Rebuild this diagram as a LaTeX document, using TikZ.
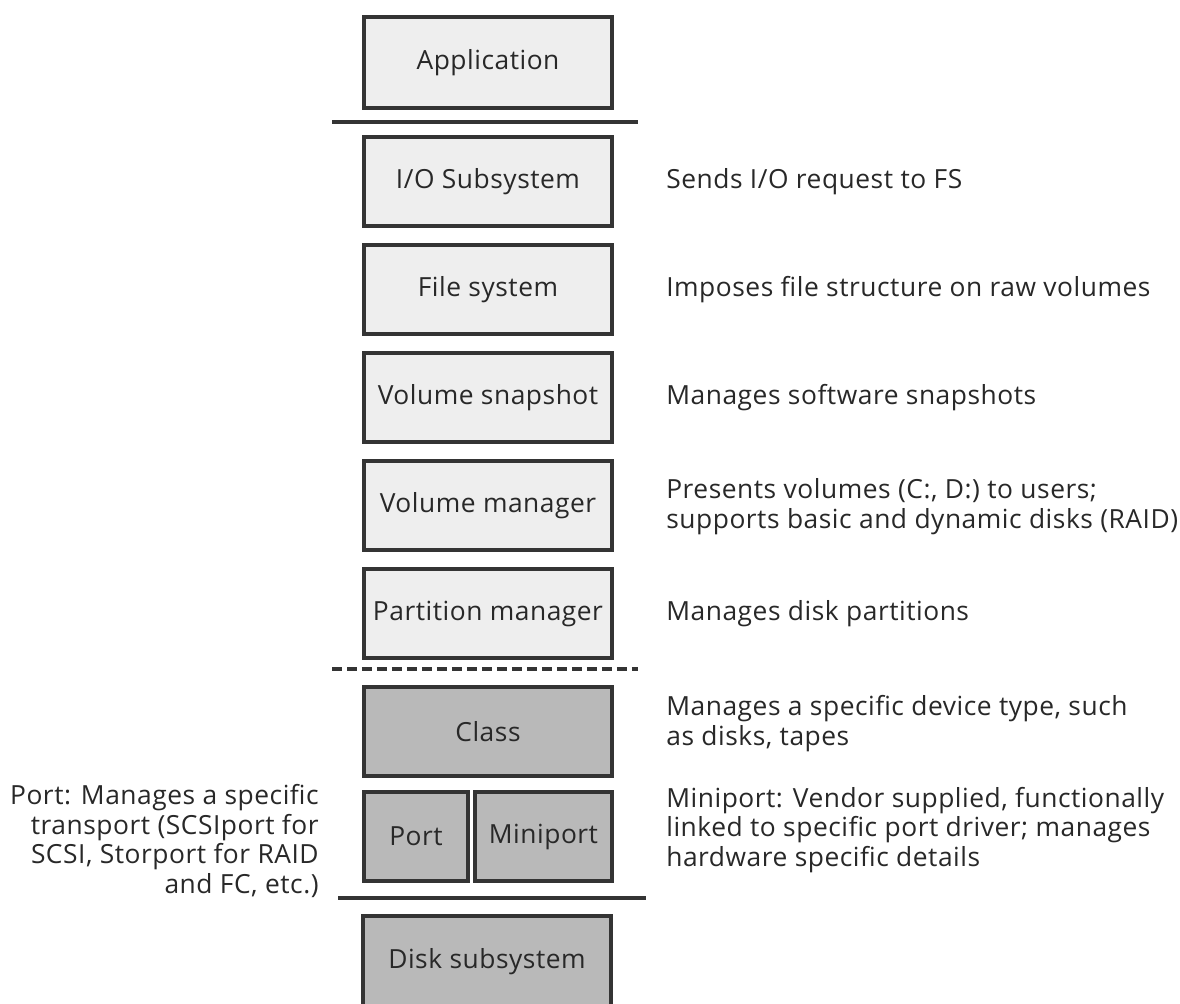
\documentclass[tikz,border=0pt]{standalone}
\usepackage{fontspec}
\setmainfont{Open Sans}[LetterSpace=2]
\usepackage{tikz}
\usetikzlibrary{positioning}
\definecolor{edge}{RGB}{52,52,52}
\definecolor{upperfill}{RGB}{238,238,238}
\definecolor{lowerfill}{RGB}{185,185,185}
\definecolor{ink}{RGB}{40,40,40}
\tikzset{
  layer/.style={draw=edge, line width=2.3pt, fill=upperfill, text=ink,
                minimum width=4.96cm, minimum height=1.78cm, inner sep=0pt},
  hwlayer/.style={layer, fill=lowerfill},
  note/.style={anchor=west, align=left, text=ink, inner sep=0pt},
  sep/.style={edge, line width=2.3pt},
}

\begin{document}
\begin{tikzpicture}[x=0.02cm, y=-0.02cm, font=\fontsize{15}{17}\selectfont]
    \useasboundingbox (0,0) rectangle (1180,1004);
    \clip (0,0) rectangle (1180,1004);
    \fill[white] (0,0) rectangle (1180,1004);
    % software stack
    \node[layer, minimum height=1.82cm] (app) at (488,62.5) {Application};
    \coordinate (topl) at (332,122);
    \coordinate (topr) at (638,122);
    \draw[sep] (topl) -- (topr);
    \node[layer] (io) at (488,181.5) {I/O Subsystem};
    \node[layer] (fs) at (488,289.5) {File system};
    \node[layer] (snap) at (488,397.5) {Volume snapshot};
    \node[layer] (volmgr) at (488,505.5) {Volume manager};
    \node[layer] (partmgr) at (488,613.5) {Partition manager};
    \coordinate (dashl) at (332,669);
    \coordinate (dashr) at (638,669);
    \draw[sep, dash pattern=on 0.2cm off 0.1cm] (dashl) -- (dashr);
    % drivers and hardware
    \node[hwlayer] (class) at (488,731.5) {Class};
    \node[hwlayer, minimum width=2.08cm] (port) at (416,836.5) {Port};
    \node[hwlayer, minimum width=2.74cm] (miniport) at (543.5,836.5) {Miniport};
    \coordinate (botl) at (338,898);
    \coordinate (botr) at (646,898);
    \draw[sep] (botl) -- (botr);
    \node[hwlayer, minimum height=2.1cm] (disk) at (487,968) {\raisebox{0.4cm}{Disk subsystem}};
    % descriptions
    \node[note] (ionote) at (666,182) {Sends I/O request to FS};
    \node[note] (fsnote) at (666,290) {Imposes file structure on raw volumes};
    \node[note] (snapnote) at (666,398) {Manages software snapshots};
    \node[note] (volnote) at (666,507) {Presents volumes (C:, D:) to users;\\supports basic and dynamic disks (RAID)};
    \node[note] (partnote) at (666,614) {Manages disk partitions};
    \node[note] (classnote) at (666,724) {Manages a specific device type, such\\as disks, tapes};
    \node[note] (mininote) at (666,830) {Miniport: Vendor supplied, functionally\\linked to specific port driver; manages\\hardware specific details};
    \node[note, anchor=east, align=right] (portnote) at (319,841) {Port: Manages a specific\\transport (SCSIport for\\SCSI, Storport for RAID\\and FC, etc.)};
\end{tikzpicture}
\end{document}
